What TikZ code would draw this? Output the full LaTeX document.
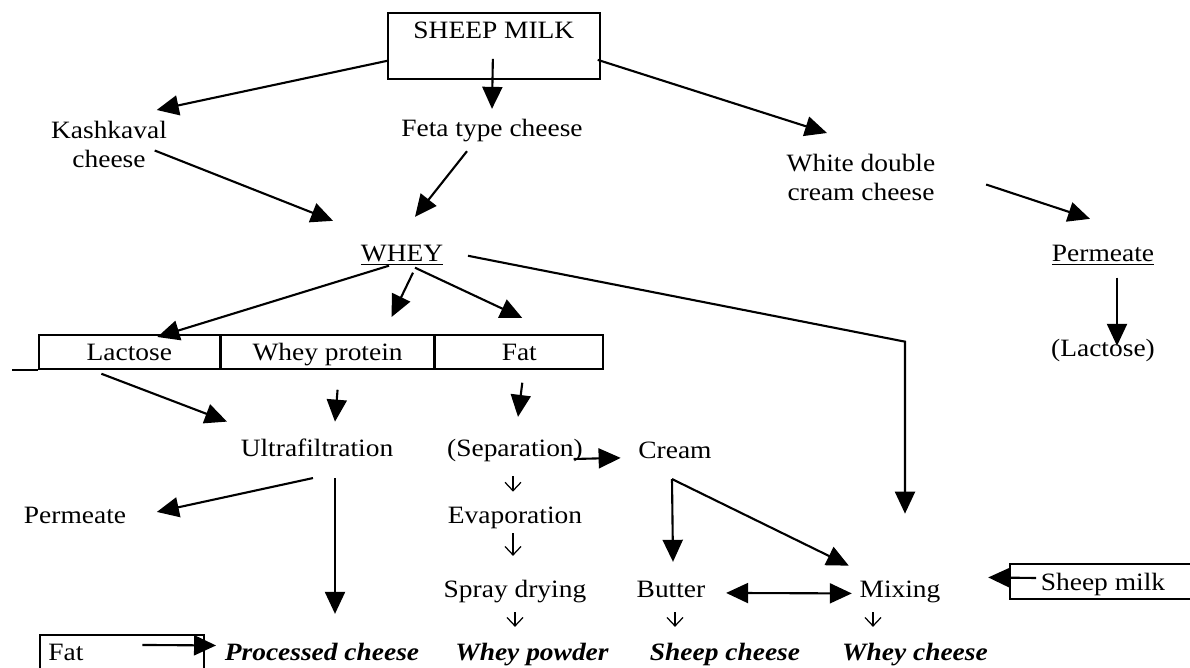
\documentclass[tikz,border=0pt]{standalone}
\usepackage{fontspec}
\setmainfont{Liberation Serif}[FakeStretch=1.1]
\usetikzlibrary{arrows.meta,positioning}

\begin{document}
\begin{tikzpicture}[x=0.02cm,y=-0.02cm,line width=1.2pt,
  >={Triangle[length=0.44cm,width=0.4cm]},
  font=\fontsize{14.2}{17}\selectfont,
  lbl/.style={inner sep=1pt,anchor=base},
  twoline/.style={inner sep=1pt,align=center,anchor=north},
  res/.style={lbl,font=\fontsize{14.2}{17}\selectfont\bfseries\itshape},
  cell/.style={draw,line width=1pt,inner sep=0pt,text height=0.52cm,text depth=0.16cm},
  smallarr/.style={line width=0.7pt,-{Straight Barb[length=1.7mm,width=3.2mm]}}]

  \useasboundingbox (0,0) rectangle (1190,668);

  % 原料
  \node[draw,line width=1pt,inner sep=0pt,minimum width=4.24cm,
        text height=0.52cm,text depth=0.8cm,anchor=north west] (milk) at (387,12) {SHEEP MILK};

  % 三种奶酪
  \node[twoline] (kash) at (109,118) {Kashkaval\\cheese};
  \node[lbl] (feta) at (492,137) {Feta type cheese};
  \node[twoline] (white) at (861,151) {White double\\cream cheese};
  \draw[->] ([shift={(0,15)}]milk.west) -- ([shift={(-13,-8)}]kash.north east);
  \draw[->] ([shift={(-1,13)}]milk.center) -- ([shift={(0,-8)}]feta.north);
  \draw[->] ([shift={(-3,14)}]milk.east) -- ([shift={(-34,-18)}]white.north);

  % 乳清与渗透液
  \node[lbl] (whey) at (402,262) {\underline{WHEY}};
  \node[lbl] (perm) at (1103,262) {\underline{Permeate}};
  \node[lbl] (lact) at (1103,357) {(Lactose)};
  \draw[->] ([shift={(-15,6)}]kash.east) -- ([shift={(-25,-22)}]whey.north west);
  \draw[->] ([shift={(-25,6)}]feta.south) -- ([shift={(13,-26)}]whey.north);
  \draw[->] ([shift={(48,7)}]white.east) -- ([shift={(-13,-24)}]perm.north);
  \draw[->] ([shift={(14,9)}]perm.south) -- ([shift={(14,9)}]lact.north);

  % 乳糖 / 乳清蛋白 / 脂肪
  \node[cell,minimum width=3.62cm,anchor=north west] (lcell) at (38,334) {Lactose};
  \node[cell,minimum width=4.24cm,right=0pt of lcell] (pcell) {Whey protein};
  \node[cell,minimum width=3.36cm,right=0pt of pcell] (fcell) {Fat};
  \draw[line width=1pt] (lcell.south west) -- ++(-26,0);
  \draw[->] ([shift={(-13,-3)}]whey.south) -- ([shift={(28,3)}]lcell.north);
  \draw[->] ([shift={(11,4)}]whey.south) -- ([shift={(64,-17)}]pcell.north);
  \draw[->] ([shift={(13,-1)}]whey.south) -- ([shift={(3,-16)}]fcell.north);

  % 中间步骤
  \node[lbl] (ultra) at (317,457) {Ultrafiltration};
  \node[lbl] (sep) at (515,457) {(Separation)};
  \node[lbl] (cream) at (675,459) {Cream};
  \node[lbl] (perm2) at (75,524) {Permeate};
  \node[lbl] (evap) at (515,524) {Evaporation};
  \node[lbl] (spray) at (515,598) {Spray drying};
  \node[lbl] (butter) at (671,598) {Butter};
  \node[lbl] (mix) at (900,598) {Mixing};
  \node[lbl] (smilk) at (1103,590) {Sheep milk};
  \draw[line width=1pt] (1190,564) -| (1010,599) -- (1190,599);

  % 产品
  \node[lbl] (fat) at (66,660) {Fat};
  \draw[line width=1pt] (40,668) |- (204,635) -- (204,668);
  \node[res] (proc) at (322,660) {Processed cheese};
  \node[res] (wpow) at (532,660) {Whey powder};
  \node[res] (shch) at (725,660) {Sheep cheese};
  \node[res] (wch) at (915,660) {Whey cheese};

  % 乳清直接去混合
  \draw[->] ([shift={(22,0)}]whey.east) -- ([shift={(5,-237)}]mix.north) -- ([shift={(5,-65)}]mix.north);

  % 超滤
  \draw[->] ([shift={(-28,4)}]lcell.south) -- ([shift={(-11,-15)}]ultra.north west);
  \draw[->] ([shift={(10,20)}]pcell.south) -- ([shift={(18,-15)}]ultra.north);
  \draw[->] ([shift={(-4,18)}]ultra.south) -- ([shift={(28,-4)}]perm2.east);
  \draw[->] ([shift={(18,18)}]ultra.south) -- ([shift={(13,-26)}]proc.north);
  \draw[->] ([shift={(56,-7)}]fat.east) -- ([shift={(-6,-6)}]proc.west);

  % 分离、蒸发、喷雾干燥
  \draw[->] ([shift={(3,13)}]fcell.south) -- ([shift={(3,-20)}]sep.north);
  \draw[->] ([shift={(-12,8)}]sep.east) -- ([shift={(-15,7)}]cream.west);
  \draw[smallarr] ([shift={(-2,11)}]sep.south) -- ([shift={(-2,-13)}]evap.north);
  \draw[smallarr] ([shift={(-2,1)}]evap.south) -- ([shift={(-2,-22)}]spray.north);
  \draw[smallarr] ([shift={(0,6)}]spray.south) -- ([shift={(-17,-13)}]wpow.north);

  % 奶油、黄油、混合
  \draw[->] ([shift={(-3,17)}]cream.south) -- ([shift={(2,-17)}]butter.north);
  \draw[->] ([shift={(-3,17)}]cream.south) -- ([shift={(-8,-13)}]mix.north west);
  \draw[<->] ([shift={(18,3)}]butter.east) -- ([shift={(-5,1)}]mix.west);
  \draw[->] ([shift={(-2,-6)}]smilk.west) -- ([shift={(45,-15)}]mix.east);
  \draw[smallarr] ([shift={(4,11)}]butter.south) -- ([shift={(-50,-13)}]shch.north);
  \draw[smallarr] ([shift={(-27,6)}]mix.south) -- ([shift={(-42,-13)}]wch.north);

\end{tikzpicture}
\end{document}
